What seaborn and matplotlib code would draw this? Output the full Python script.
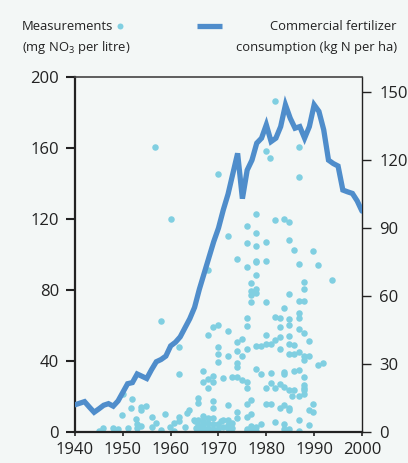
import matplotlib
matplotlib.use("Agg")
import matplotlib.pyplot as plt
import seaborn as sns
import pandas as pd
from matplotlib.lines import Line2D

# Annual commercial fertilizer consumption (kg N per ha)
fert_years = list(range(1940, 2001))
fert_values = [
    12.0, 12.7, 13.4, 11.0, 8.7, 10.2, 11.8, 12.5, 11.4, 13.7,
    17.5, 21.3, 21.8, 25.6, 24.6, 23.6, 27.5, 31.0, 32.0, 33.5,
    38.0, 39.6, 42.0, 46.0, 50.0, 55.0, 63.0, 70.0, 77.0, 84.0,
    90.0, 98.0, 105.0, 114.0, 123.0, 103.0, 115.6, 120.0, 127.5, 129.7,
    135.6, 128.2, 129.7, 134.8, 144.4, 138.5, 134.1, 134.8, 129.7, 134.8,
    144.4, 141.5, 133.4, 120.0, 118.5, 117.4, 106.8, 106.0, 105.3, 102.0,
    97.5,
]

# Groundwater nitrate measurements (mg NO3 per litre)
meas_years = [
    1945.0, 1945.9, 1948.0, 1949.0, 1949.8, 1950.0, 1951.0, 1951.8, 1952.0, 1952.8,
    1953.0, 1953.0, 1953.9, 1953.9, 1954.9, 1953.9, 1956.0, 1956.0, 1957.0, 1957.9,
    1957.9, 1956.8, 1958.9, 1959.8, 1960.0, 1960.8, 1960.8, 1961.8, 1961.8, 1961.8,
    1961.8, 1962.9, 1963.4, 1963.9,
    1964.8, 1965.0, 1965.3,
    1965.8, 1965.8, 1965.8, 1965.8, 1965.8,
    1966.8, 1966.8, 1966.8, 1966.8, 1966.8, 1966.8, 1966.8,
    1967.9, 1967.9, 1967.9, 1967.9, 1967.9, 1967.9, 1967.9, 1967.9,
    1968.9, 1968.9, 1968.9, 1968.9, 1968.9, 1968.9, 1968.9, 1968.9,
    1969.9, 1969.9, 1969.9, 1969.9, 1969.9, 1969.9, 1969.9,
    1970.5, 1970.9, 1970.9, 1970.9,
    1972.0, 1972.0, 1972.0, 1972.0, 1972.0, 1972.0, 1972.0,
    1972.9, 1972.9, 1972.9,
    1973.9, 1973.9, 1973.9, 1973.9, 1973.9, 1973.9, 1973.9, 1973.9,
    1974.9, 1974.9, 1974.9,
    1975.9, 1975.9, 1975.9, 1975.9, 1975.9, 1975.9, 1975.9, 1975.9, 1975.9, 1975.9,
    1975.9, 1975.9,
    1976.9, 1976.9, 1976.9, 1976.9, 1976.9, 1976.9, 1976.9, 1976.9, 1976.9,
    1977.8, 1977.8, 1977.8, 1977.8, 1977.8, 1977.8, 1977.8, 1977.8, 1977.8, 1977.8,
    1977.8, 1977.8,
    1978.9, 1978.9, 1978.9,
    1979.9, 1979.9, 1979.9, 1979.9, 1979.9, 1979.9, 1979.9, 1979.9,
    1980.7, 1980.9, 1980.9, 1980.9, 1980.9,
    1981.8, 1981.8, 1981.8, 1981.8, 1981.8, 1981.8,
    1982.8, 1982.8, 1982.8, 1982.8, 1982.8, 1982.8,
    1983.8, 1983.8, 1983.8, 1983.8, 1983.8, 1983.8, 1983.8, 1983.8,
    1984.8, 1984.8, 1984.8, 1984.8, 1984.8, 1984.8, 1984.8, 1984.8, 1984.8, 1984.8,
    1984.8, 1984.8,
    1985.8, 1985.8, 1985.8, 1985.8, 1985.8, 1985.4,
    1986.8, 1986.8, 1986.8, 1986.8, 1986.8, 1986.8, 1986.8, 1986.8, 1986.8, 1986.8,
    1986.8, 1986.8,
    1987.8, 1987.8, 1987.8, 1987.8, 1987.8, 1987.8, 1987.8, 1987.8, 1987.8, 1987.8,
    1987.8,
    1988.9, 1988.9, 1988.9, 1988.9,
    1989.8, 1989.8, 1989.8,
    1990.8, 1990.8,
    1991.8,
    1993.8,
]
meas_values = [
    0.5, 2.4, 2.4, 1.5, 9.6, 21.3, 2.1, 13.7, 18.5, 7.2,
    4.7, 2.4, 14.1, 12.3, 14.7, 3.4, 8.6, 2.8, 5.3, 1.0,
    62.7, 160.6, 10.3, 2.8, 120.2, 0.6, 5.3, 47.6, 32.6, 8.5,
    6.2, 2.8, 10.9, 12.3,
    6.6, 6.2, 2.5,
    19.0, 16.6, 6.6, 4.0, 2.0,
    34.3, 28.4, 9.0, 6.2, 2.4, 1.0, 4.5,
    91.0, 54.6, 29.8, 25.0, 7.7, 5.0, 2.1, 1.0,
    58.9, 31.5, 28.4, 17.5, 13.4, 7.7, 4.4, 1.5,
    145.2, 60.1, 47.6, 44.2, 39.2, 4.4, 1.7,
    6.2, 30.3, 6.6, 2.8,
    110.2, 56.7, 42.8, 15.3, 7.0, 2.1, 4.0,
    31.1, 5.1, 2.5,
    97.6, 50.7, 45.8, 38.6, 36.7, 31.1, 11.1, 7.7,
    52.5, 42.8, 29.5,
    116.2, 106.4, 92.8, 64.0, 59.7, 46.9, 28.1, 24.7, 15.6, 8.5,
    1.5, 0.6,
    83.8, 79.3, 77.4, 73.0, 18.2, 10.3, 3.4, 1.5, 0.6,
    123.0, 112.0, 104.9, 96.6, 95.9, 88.7, 80.8, 78.5, 48.7, 35.6,
    2.8, 0.8,
    48.7, 32.6, 4.3,
    158.4, 106.8, 96.6, 73.3, 54.4, 49.5, 25.0, 15.6,
    154.2, 49.5, 33.3, 27.7, 15.6,
    186.4, 119.2, 65.0, 51.8, 24.7, 5.8,
    64.0, 58.9, 53.3, 46.9, 27.3, 13.7,
    120.0, 69.9, 34.0, 32.9, 25.4, 15.3, 4.7, 1.5,
    118.3, 107.9, 77.8, 63.7, 60.5, 54.0, 49.5, 43.9, 23.9, 13.7,
    12.3, 1.5,
    102.6, 48.8, 44.2, 34.5, 23.6, 20.5,
    160.6, 143.5, 94.7, 73.6, 66.8, 64.0, 57.8, 45.0, 35.2, 20.1,
    7.0, 0.8,
    84.4, 80.8, 73.6, 55.5, 42.8, 40.5, 31.1, 26.6, 25.0, 23.9,
    21.3,
    51.0, 43.0, 12.3, 4.0,
    101.9, 15.6, 11.3,
    93.8, 37.5,
    38.6,
    85.7,
]

left_ticks = [0, 40, 80, 120, 160, 200]
right_ticks = [0, 30, 60, 90, 120, 150]
x_ticks = [1940, 1950, 1960, 1970, 1980, 1990, 2000]

dot_color = "#80cfe1"
line_color = "#4f8dcb"
bg = "#f3f7f6"
ink = "#222222"

sns.set_theme(style="ticks")
plt.rcParams["font.family"] = ["Open Sans", "DejaVu Sans"]
plt.rcParams["mathtext.fontset"] = "custom"
plt.rcParams["mathtext.rm"] = "Open Sans"
plt.rcParams["mathtext.default"] = "rm"

meas = pd.DataFrame({"year": meas_years, "nitrate": meas_values})
fert = pd.DataFrame({"year": fert_years, "fertilizer": fert_values})

fig = plt.figure(figsize=(4.08, 4.63), dpi=100, facecolor=bg)
ax = fig.add_axes([0.1838, 0.0670, 0.7034, 0.7667])
ax.set_facecolor(bg)

sns.scatterplot(data=meas, x="year", y="nitrate", ax=ax, color=dot_color,
                s=22, linewidth=0, zorder=2)
ax.set_xlim(1940, 2000)
ax.set_ylim(0, 200)
ax.set_xticks(x_ticks)
ax.set_yticks(left_ticks)
ax.set_xlabel("")
ax.set_ylabel("")

ax2 = ax.twinx()
sns.lineplot(data=fert, x="year", y="fertilizer", ax=ax2, color=line_color,
             linewidth=3.8, solid_joinstyle="miter", zorder=3)
ax2.set_ylim(0, 156.7)
ax2.set_yticks(right_ticks)
ax2.set_xlim(1940, 2000)
ax2.set_ylabel("")
ax2.set_xlabel("")

for a in (ax, ax2):
    for s in a.spines.values():
        s.set_color(ink)
    a.spines["top"].set_visible(False)
ax.spines["left"].set_linewidth(1.6)
ax.spines["bottom"].set_linewidth(1.6)
ax.spines["right"].set_visible(False)
ax2.spines["left"].set_visible(False)
ax2.spines["bottom"].set_visible(False)
ax2.spines["right"].set_linewidth(1.0)
ax2.spines["top"].set_visible(True)
ax2.spines["top"].set_linewidth(1.2)
ax2.spines["top"].set_color("#444444")

ax.tick_params(axis="y", direction="out", length=6.5, width=1.5, pad=5,
               labelsize=12, colors=ink)
ax.tick_params(axis="x", direction="out", length=3, width=1.2, pad=4,
               labelsize=12, colors=ink)
ax2.tick_params(axis="y", direction="out", length=6.5, width=1.0, pad=6,
                labelsize=12, colors=ink)

# Header legend
legend_size = 9.4
fig.text(22 / 408, 1 - 29.5 / 463, "Measurements", fontsize=legend_size, color=ink,
         ha="left", va="baseline")
fig.add_artist(Line2D([119.5 / 408], [1 - 25.5 / 463], marker="o", markersize=4.3,
                      color=dot_color, markeredgewidth=0, transform=fig.transFigure))
fig.text(22 / 408, 1 - 51.5 / 463, "(mg NO$_3$ per litre)", fontsize=legend_size,
         color=ink, ha="left", va="baseline")
fig.add_artist(Line2D([197 / 408, 222 / 408], [1 - 25.5 / 463, 1 - 25.5 / 463],
                      color=line_color, linewidth=3.8, solid_capstyle="butt",
                      transform=fig.transFigure))
fig.text(397 / 408, 1 - 29.5 / 463, "Commercial fertilizer", fontsize=legend_size,
         color=ink, ha="right", va="baseline")
fig.text(397 / 408, 1 - 51.5 / 463, "consumption (kg N per ha)", fontsize=legend_size,
         color=ink, ha="right", va="baseline")

fig.savefig("out.png", dpi=100, facecolor=bg)
